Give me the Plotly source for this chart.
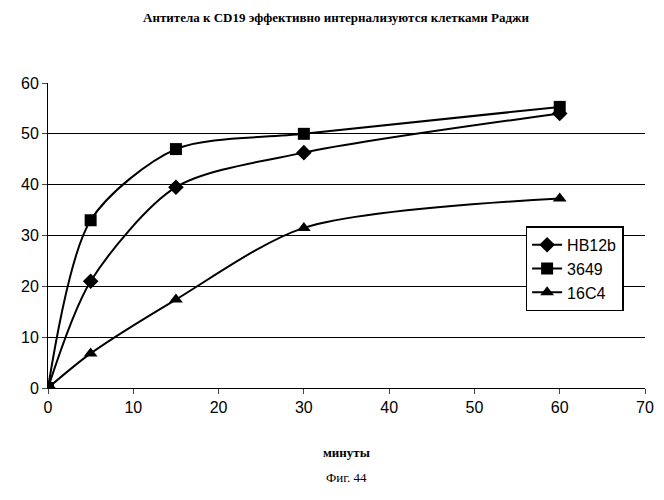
import plotly.graph_objects as go

minutes = [0, 5, 15, 30, 60]
hb12b = [0, 21, 39.5, 46.3, 54]
a3649 = [0, 33, 47, 50, 55.3]
c16c4 = [0, 6.8, 17.4, 31.5, 37.3]

fig = go.Figure()
for name, vals, sym in [("HB12b", hb12b, "diamond"), ("3649", a3649, "square"), ("16C4", c16c4, "triangle-up")]:
    fig.add_trace(go.Scatter(x=minutes, y=vals, name=name, mode="lines+markers",
                             line=dict(color="black", width=2, shape="spline", smoothing=0.8),
                             marker=dict(symbol=sym, size=12, color="black")))

# page is offset 8px by the body margin
fig.update_layout(
    width=656, height=492, plot_bgcolor="white", paper_bgcolor="white",
    margin=dict(l=40, r=19, t=75, b=112),
    font=dict(family="Liberation Sans", size=16, color="black"),
    title=dict(text="<b>Антитела к CD19 эффективно интернализуются клетками Раджи</b>",
               x=0.5, xanchor="center", y=0.99, font=dict(family="Liberation Serif", size=13)),
    legend=dict(x=0.8, y=0.53, xanchor="left", yanchor="top", bordercolor="black", borderwidth=1.5,
                font=dict(size=16), bgcolor="white"),
    xaxis=dict(range=[0, 70], dtick=10, showgrid=False, showline=True, linecolor="black",
               ticks="outside", zeroline=False, automargin=False),
    yaxis=dict(range=[0, 60], dtick=10, showgrid=True, gridcolor="black", gridwidth=1,
               showline=True, linecolor="black", ticks="outside", zeroline=False, automargin=False),
)
fig.add_annotation(text="<b>минуты</b>", x=0.5, y=-(462 - 388) / 305, xref="paper", yref="paper",
                   showarrow=False, font=dict(family="Liberation Serif", size=13))
fig.add_annotation(text="Фиг. 44", x=0.5, y=-(487 - 388) / 305, xref="paper", yref="paper", showarrow=False,
                   font=dict(family="Liberation Serif", size=13))
fig.write_html("out.html")
